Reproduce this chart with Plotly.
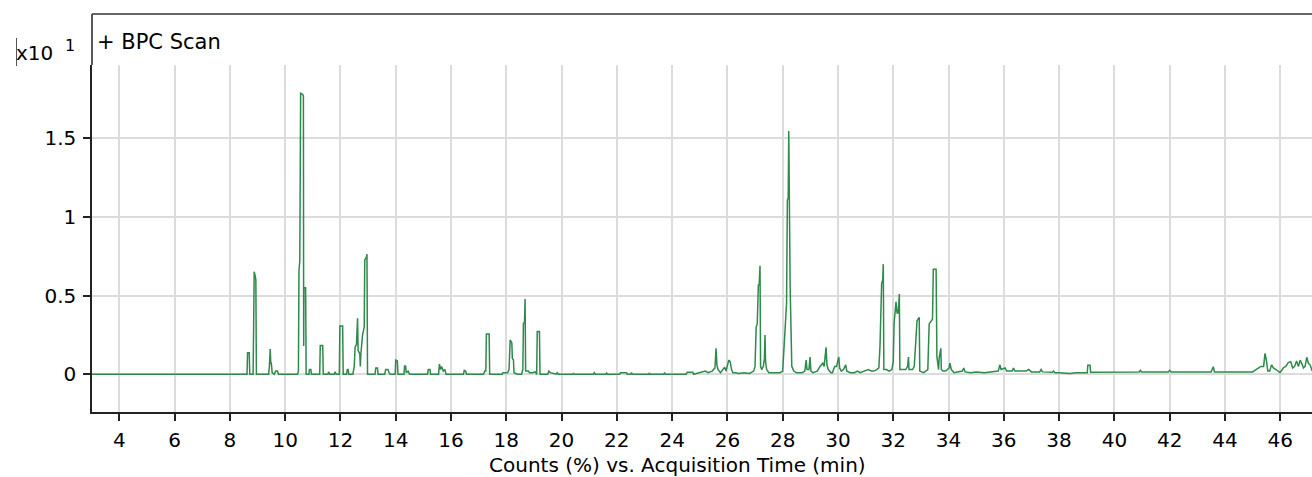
import plotly.graph_objects as go

# Base peak chromatogram: (acquisition time in min, counts x10^1 %)
seg_baseline_start = [(3.0, 0), (8.60, 0)]

seg_8_to_12 = [
    (8.62, 0), (8.64, 0.137), (8.70, 0.137), (8.72, 0),
    (8.84, 0), (8.86, 0.30), (8.88, 0.652), (8.91, 0.63), (8.94, 0.60), (8.96, 0),
    (9.40, 0), (9.43, 0.05), (9.46, 0.16), (9.48, 0.07), (9.50, 0.07), (9.53, 0.01),
    (9.60, 0), (9.66, 0.02), (9.72, 0.02), (9.76, 0),
    (10.45, 0), (10.48, 0.02), (10.50, 0.66), (10.53, 0.72), (10.56, 1.786),
    (10.63, 1.78), (10.66, 1.77), (10.67, 0.18), (10.68, 0.553), (10.74, 0.55), (10.76, 0),
    (10.86, 0), (10.88, 0.03), (10.93, 0.03), (10.95, 0),
    (11.25, 0), (11.27, 0.182), (11.36, 0.182), (11.38, 0),
    (11.55, 0), (11.57, 0.015), (11.62, 0), (11.78, 0), (11.80, 0.015), (11.85, 0),
    (11.96, 0), (11.98, 0.307), (12.08, 0.307), (12.10, 0),
]

seg_12_to_20 = [
    (12.22, 0), (12.25, 0.03), (12.28, 0.03), (12.30, 0),
    (12.45, 0), (12.50, 0.05), (12.53, 0.17), (12.58, 0.19), (12.62, 0.356), (12.64, 0.15),
    (12.70, 0.13), (12.72, 0.05), (12.74, 0.13), (12.80, 0.25), (12.86, 0.30), (12.88, 0.727),
    (12.93, 0.74), (12.96, 0.763), (12.98, 0),
    (13.25, 0), (13.28, 0.04), (13.34, 0.04), (13.36, 0),
    (13.60, 0), (13.64, 0.03), (13.72, 0.03), (13.76, 0.01), (13.80, 0),
    (13.98, 0), (14.00, 0.09), (14.06, 0.085), (14.08, 0),
    (14.30, 0), (14.32, 0.055), (14.36, 0.05), (14.38, 0.01), (14.45, 0.02), (14.50, 0),
    (15.15, 0), (15.18, 0.03), (15.24, 0.03), (15.26, 0),
    (15.55, 0), (15.58, 0.065), (15.62, 0.03), (15.66, 0.05), (15.72, 0.02), (15.78, 0.03), (15.82, 0),
    (16.45, 0), (16.48, 0.025), (16.53, 0.02), (16.56, 0),
    (17.18, 0), (17.22, 0.02), (17.26, 0.02), (17.28, 0.256), (17.38, 0.256), (17.40, 0),
    (17.85, 0), (17.88, 0.01), (18.05, 0.01), (18.10, 0.03), (18.14, 0.218), (18.20, 0.20),
    (18.22, 0.10), (18.26, 0.09), (18.28, 0.01), (18.40, 0),
    (18.55, 0), (18.60, 0.03), (18.62, 0.324), (18.66, 0.33), (18.68, 0.478), (18.70, 0.02),
    (18.80, 0.02), (18.84, 0.01), (18.95, 0.01), (19.05, 0.015), (19.10, 0),
    (19.12, 0.271), (19.20, 0.271), (19.22, 0),
    (19.50, 0), (19.54, 0.02), (19.60, 0.01), (19.80, 0), (19.84, 0.01), (19.88, 0),
]

seg_20_to_27 = [
    (20.40, 0), (20.43, 0.005), (20.46, 0), (21.15, 0), (21.18, 0.01), (21.22, 0),
    (21.60, 0), (21.63, 0.008), (21.66, 0), (22.10, 0), (22.13, 0.01), (22.35, 0.01), (22.38, 0),
    (22.50, 0), (22.53, 0.01), (22.56, 0), (23.15, 0), (23.18, 0.008), (23.20, 0),
    (23.70, 0), (23.73, 0.01), (23.76, 0),
    (24.50, 0), (24.55, 0.012), (24.75, 0.012), (24.78, 0), (24.90, 0.005), (25.05, 0.01),
    (25.20, 0.02), (25.30, 0.01), (25.45, 0.02), (25.55, 0.04), (25.59, 0.165), (25.62, 0.06),
    (25.66, 0.03), (25.75, 0.01), (25.90, 0.045), (25.95, 0.02), (26.05, 0.09), (26.10, 0.08),
    (26.15, 0.03), (26.20, 0.01), (26.30, 0.01), (26.40, 0.005), (26.60, 0.01), (26.80, 0.005),
    (26.95, 0.02), (27.00, 0.05), (27.04, 0.30), (27.08, 0.32), (27.12, 0.567), (27.15, 0.57),
    (27.18, 0.69), (27.20, 0.05), (27.24, 0.03), (27.30, 0.05), (27.34, 0.10), (27.36, 0.25),
    (27.38, 0.08), (27.42, 0.03), (27.50, 0.01), (27.70, 0.01), (27.90, 0.01),
]

seg_28_to_35 = [
    (28.00, 0.02), (28.05, 0.15), (28.08, 0.26), (28.14, 0.45), (28.17, 1.108), (28.20, 1.12),
    (28.22, 1.547), (28.24, 0.684), (28.27, 0.55), (28.30, 0.30), (28.33, 0.05), (28.40, 0.02),
    (28.50, 0.01), (28.70, 0.01), (28.80, 0.02), (28.85, 0.09), (28.88, 0.03), (28.95, 0.03),
    (28.99, 0.11), (29.02, 0.02), (29.10, 0.01), (29.25, 0.02), (29.35, 0.05), (29.45, 0.07),
    (29.50, 0.05), (29.57, 0.171), (29.60, 0.06), (29.65, 0.03), (29.75, 0.01), (29.80, 0.01),
    (29.88, 0.05), (29.95, 0.05), (30.03, 0.11), (30.06, 0.04), (30.12, 0.02), (30.20, 0.03),
    (30.28, 0.06), (30.32, 0.02), (30.45, 0.01), (30.60, 0.01), (30.70, 0.02), (30.80, 0.01),
    (31.00, 0.02), (31.10, 0.03), (31.20, 0.02), (31.30, 0.02), (31.40, 0.03), (31.48, 0.04),
    (31.52, 0.175), (31.58, 0.578), (31.62, 0.60), (31.64, 0.70), (31.66, 0.03), (31.75, 0.03),
    (31.85, 0.02), (31.95, 0.03), (32.00, 0.08), (32.03, 0.324), (32.07, 0.40), (32.10, 0.46),
    (32.14, 0.39), (32.18, 0.39), (32.22, 0.51), (32.24, 0.03), (32.35, 0.03), (32.45, 0.03),
    (32.52, 0.05), (32.55, 0.11), (32.57, 0.03), (32.70, 0.03), (32.76, 0.05), (32.80, 0.17),
    (32.86, 0.34), (32.94, 0.362), (32.96, 0.02), (33.10, 0.01), (33.25, 0.03), (33.30, 0.32),
    (33.42, 0.35), (33.45, 0.667), (33.55, 0.667), (33.58, 0.11), (33.60, 0.08), (33.64, 0.03),
    (33.66, 0.10), (33.72, 0.165), (33.74, 0.03), (33.80, 0.02), (33.90, 0.02), (34.02, 0.04),
    (34.05, 0.07), (34.10, 0.03), (34.20, 0.01), (34.40, 0.015), (34.50, 0.02), (34.55, 0.04),
    (34.60, 0.015), (34.80, 0.01), (35.00, 0.015), (35.30, 0.01), (35.60, 0.015),
]

seg_36_to_end = [
    (35.80, 0.02), (35.86, 0.06), (35.90, 0.03), (36.05, 0.04), (36.10, 0.02), (36.30, 0.02),
    (36.35, 0.04), (36.40, 0.02), (36.80, 0.02), (36.90, 0.03), (37.00, 0.015), (37.30, 0.015),
    (37.35, 0.03), (37.40, 0.015), (37.60, 0.012), (37.75, 0.012), (37.80, 0.02), (37.85, 0.01),
    (38.00, 0.01), (38.40, 0.005), (38.60, 0.01), (38.90, 0.01), (39.02, 0.01), (39.04, 0.057),
    (39.12, 0.057), (39.14, 0.012), (40.00, 0.015), (40.90, 0.015), (40.94, 0.025), (40.98, 0.015),
    (41.95, 0.015), (42.00, 0.025), (42.05, 0.015), (43.50, 0.015), (43.58, 0.048), (43.62, 0.015),
    (45.00, 0.015), (45.15, 0.03), (45.30, 0.05), (45.40, 0.05), (45.45, 0.133), (45.50, 0.09),
    (45.55, 0.02), (45.62, 0.02), (45.69, 0.06), (45.75, 0.04), (45.85, 0.03), (45.99, 0.01),
    (46.11, 0.04), (46.20, 0.05), (46.29, 0.074), (46.38, 0.08), (46.45, 0.04), (46.52, 0.05),
    (46.59, 0.085), (46.66, 0.05), (46.72, 0.09), (46.80, 0.06), (46.84, 0.04), (46.90, 0.05),
    (46.96, 0.108), (47.02, 0.07), (47.08, 0.06), (47.16, 0.02),
]

segments = [seg_baseline_start, seg_8_to_12, seg_12_to_20, seg_20_to_27, seg_28_to_35, seg_36_to_end]
time_min = [p[0] for s in segments for p in s]
counts = [p[1] for s in segments for p in s]

x_tick_vals = list(range(4, 48, 2))
y_tick_vals = [0, 0.5, 1, 1.5]
y_tick_text = ["0", "0.5", "1", "1.5"]

FONT = "DejaVu Sans, Verdana, sans-serif"

fig = go.Figure()
fig.add_trace(go.Scatter(
    x=time_min, y=counts, mode="lines",
    line=dict(color="rgb(45,138,75)", width=1.5),
    hoverinfo="x+y", showlegend=False,
))

W, H = 1312, 477
ML, MR, MT, MB = 92, 0, 65, 65
PH = H - MT - MB
top_frame = 1 + (MT - 14) / PH

fig.update_layout(
    width=W, height=H,
    margin=dict(l=ML, r=MR, t=MT, b=MB, pad=0),
    paper_bgcolor="white", plot_bgcolor="white",
    font=dict(family=FONT, size=20, color="black"),
    xaxis=dict(
        range=[3.012, 47.15], tickvals=x_tick_vals, ticks="outside", ticklen=7,
        tickwidth=1.5, tickcolor="#222", showline=True, linecolor="#222", linewidth=1.5,
        showgrid=True, gridcolor="#dcdcdc", gridwidth=1.5, zeroline=False,
        tickfont=dict(size=20, family=FONT, color="black"), ticklabelstandoff=2,
    ),
    yaxis=dict(
        range=[-0.24, 1.966], tickvals=y_tick_vals, ticktext=y_tick_text, ticks="outside",
        ticklen=7, tickwidth=1.5, tickcolor="#222", showline=True, linecolor="#222",
        linewidth=1.5, showgrid=True, gridcolor="#dcdcdc", gridwidth=1.5, zeroline=False,
        tickfont=dict(size=20, family=FONT, color="black"), ticklabelstandoff=3,
    ),
    shapes=[
        dict(type="line", xref="paper", yref="paper", x0=0, x1=0, y0=1, y1=top_frame,
             line=dict(color="#222", width=1.5)),
        dict(type="line", xref="paper", yref="paper", x0=0, x1=1, y0=top_frame, y1=top_frame,
             line=dict(color="#333", width=1.5)),
        dict(type="line", xref="paper", yref="paper", x0=(16.5 - ML) / 1220, x1=(16.5 - ML) / 1220,
             y0=1 + (MT - 66) / PH, y1=1 + (MT - 38) / PH, line=dict(color="#555", width=1)),
    ],
    annotations=[
        dict(text="+ BPC Scan", xref="paper", yref="paper", x=(95 - ML) / 1220,
             y=1 + (MT - 42) / PH, xanchor="left", yanchor="middle", showarrow=False,
             font=dict(size=21, family=FONT, color="black")),
        dict(text="x10", xref="paper", yref="paper", x=(14 - ML) / 1220,
             y=1 + (MT - 53) / PH, xanchor="left", yanchor="middle", showarrow=False,
             font=dict(size=20, family=FONT, color="black")),
        dict(text="1", xref="paper", yref="paper", x=(70 - ML) / 1220,
             y=1 + (MT - 46) / PH, xanchor="center", yanchor="middle", showarrow=False,
             font=dict(size=16, family=FONT, color="black")),
        dict(text="Counts (%) vs. Acquisition Time (min)", xref="paper", yref="paper",
             x=(677 - ML) / 1220, y=-(465 - (H - MB)) / PH, xanchor="center", yanchor="middle",
             showarrow=False, font=dict(size=20, family=FONT, color="black")),
    ],
)

fig.write_html("out.html")
